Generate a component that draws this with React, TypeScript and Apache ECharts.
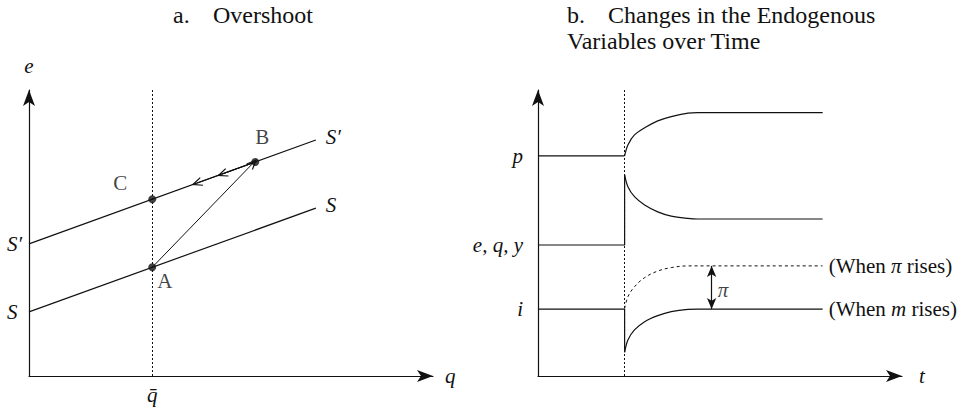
import React, { useEffect, useRef } from 'react';
import * as echarts from 'echarts';

const FONT = '"Liberation Serif", "Times New Roman", Times, serif';
const INK = '#111';

// ---------- Panel a: Overshoot ----------
const QBAR = 3.05;
const S_LINE = [[0, 2.24], [7.1, 5.87]];
const S_PRIME_LINE = [[0, 4.62], [7.1, 8.25]];
const POINT_NAMES = ['A', 'B', 'C'];
const POINTS = [[3.05, 3.8], [5.6, 7.48], [3.05, 6.18]];
const JUMP_FROM = [3.05, 3.8];
const JUMP_TO = [5.55, 7.45];
const RETURN_FROM = [5.6, 7.48];
const RETURN_TIPS = [[4.78, 7.06], [4.15, 6.74]];
const A_Y_LABEL_VALUES = [2.24, 4.62];
const A_Y_LABELS = ['S', 'S\u2032'];

// ---------- Panel b: Changes over time ----------
const T_SHOCK = 2.38;
const B_Y_LABEL_VALUES = [7.70, 4.58, 2.34];
const B_Y_LABELS = ['p', 'e, q, y', 'i'];
const P_BEFORE = [[0, 7.70], [2.38, 7.70]];
const P_AFTER = [[2.38, 7.70], [2.47, 8.08], [2.65, 8.43], [2.93, 8.68], [3.29, 8.92], [3.66, 9.07], [4.12, 9.19], [4.39, 9.21], [7.82, 9.21]];
const EQY_STEP = [[0, 4.58], [2.38, 4.58], [2.38, 7.03]];
const EQY_AFTER = [[2.38, 7.03], [2.47, 6.62], [2.65, 6.27], [2.93, 5.98], [3.29, 5.74], [3.66, 5.59], [4.12, 5.51], [4.39, 5.49], [7.82, 5.49]];
const I_STEP = [[0, 2.34], [2.38, 2.34], [2.38, 0.83]];
const I_AFTER_M = [[2.38, 0.83], [2.47, 1.26], [2.65, 1.61], [2.93, 1.90], [3.29, 2.11], [3.66, 2.25], [4.12, 2.33], [4.39, 2.34], [7.82, 2.34]];
const I_AFTER_PI = [[2.38, 2.36], [2.47, 2.77], [2.65, 3.12], [2.93, 3.44], [3.29, 3.67], [3.66, 3.79], [4.12, 3.85], [4.39, 3.85], [7.82, 3.85]];
const PI_GAP_X = 4.77;
const PI_GAP = [3.85, 2.34];
const PI_LABEL_POS = [4.77, 3.0];

const CHEVRON = 'path://M5,0 L10,12 L8.9,12.6 L5,3.6 L1.1,12.6 L0,12 Z';

function pickLabel(values: number[], labels: string[]) {
  return (v: number) => {
    let best = 0;
    let bd = Infinity;
    values.forEach((x, i) => {
      const d = Math.abs(x - v);
      if (d < bd) { bd = d; best = i; }
    });
    return bd < 0.01 ? labels[best] : '';
  };
}

const lineBase = { type: 'line', symbol: 'none', silent: true, lineStyle: { color: INK, width: 1.2 } };
const SMOOTH = 0.35;

export default function App() {
  const ref = useRef<HTMLDivElement>(null);
  useEffect(() => {
    document.body.style.margin = '0';
    const chart = echarts.init(ref.current!, null, { renderer: 'svg' });
    const axisLine = {
      show: true,
      onZero: false,
      symbol: ['none', 'arrow'],
      symbolSize: [9, 16],
      lineStyle: { color: INK, width: 1.2 },
    };
    const nameStyle = { fontFamily: FONT, fontStyle: 'italic', fontSize: 21, color: INK };
    const labelStyle = { fontFamily: FONT, fontSize: 21, color: INK };
    const titleRich = { fontFamily: FONT, fontSize: 24, color: INK, fontWeight: 'normal', lineHeight: 26 };
    const option: any = {
      animation: false,
      backgroundColor: '#fff',
      title: [
        {
          left: 173, top: 2, padding: 0,
          text: '{l|a.}{t|Overshoot}',
          textStyle: { fontWeight: 'normal', rich: { l: { ...titleRich, width: 40 }, t: titleRich } },
        },
        {
          left: 567, top: 2, padding: 0,
          text: '{l|b.}{t|Changes in the Endogenous}\n{t|Variables over Time}',
          textStyle: { fontWeight: 'normal', rich: { l: { ...titleRich, width: 41 }, t: titleRich } },
        },
      ],
      grid: [
        { left: 29, top: 90, width: 404, height: 286, outerBoundsMode: 'none' },
        { left: 538, top: 90, width: 364, height: 286, outerBoundsMode: 'none' },
      ],
      xAxis: [
        {
          gridIndex: 0, type: 'value', min: 0, max: 10,
          axisLine, axisTick: { show: false }, splitLine: { show: false },
          axisLabel: { ...labelStyle, fontStyle: 'italic', customValues: [QBAR], formatter: () => 'q\u0304', margin: 8 },
          name: 'q', nameLocation: 'end', nameGap: 12, nameTextStyle: nameStyle,
        },
        {
          gridIndex: 1, type: 'value', min: 0, max: 10,
          axisLine, axisTick: { show: false }, splitLine: { show: false },
          axisLabel: { show: false },
          name: 't', nameLocation: 'end', nameGap: 17, nameTextStyle: nameStyle,
        },
      ],
      yAxis: [
        {
          gridIndex: 0, type: 'value', min: 0, max: 10,
          axisLine, axisTick: { show: false }, splitLine: { show: false },
          axisLabel: {
            ...labelStyle, fontStyle: 'italic', customValues: A_Y_LABEL_VALUES,
            formatter: pickLabel(A_Y_LABEL_VALUES, A_Y_LABELS), align: 'left', margin: 22,
          },
          name: 'e', nameLocation: 'end', nameGap: 14, nameTextStyle: nameStyle,
        },
        {
          gridIndex: 1, type: 'value', min: 0, max: 10,
          axisLine, axisTick: { show: false }, splitLine: { show: false },
          axisLabel: {
            ...labelStyle, fontStyle: 'italic', customValues: B_Y_LABEL_VALUES,
            formatter: pickLabel(B_Y_LABEL_VALUES, B_Y_LABELS), margin: 15,
          },
        },
      ],
      series: [
        // Panel a
        {
          ...lineBase, xAxisIndex: 0, yAxisIndex: 0, data: S_LINE, clip: false,
          endLabel: { show: true, formatter: 'S', ...labelStyle, fontStyle: 'italic', distance: 10, offset: [0, -3] },
          markLine: {
            silent: true, symbol: ['none', 'none'], label: { show: false },
            lineStyle: { color: INK, width: 1, type: [2, 2] },
            data: [[{ coord: [QBAR, 0] }, { coord: [QBAR, 10] }]],
          },
        },
        {
          ...lineBase, xAxisIndex: 0, yAxisIndex: 0, data: S_PRIME_LINE, clip: false,
          endLabel: { show: true, formatter: 'S\u2032', ...labelStyle, fontStyle: 'italic', distance: 10, offset: [0, -3] },
          markLine: {
            silent: true, symbol: ['none', CHEVRON], symbolSize: [9, 11], label: { show: false },
            lineStyle: { color: INK, width: 1, type: 'solid' },
            data: [
              [{ coord: JUMP_FROM }, { coord: JUMP_TO }],
              ...RETURN_TIPS.map((t) => [{ coord: RETURN_FROM }, { coord: t }]),
            ],
          },
        },
        {
          type: 'scatter', xAxisIndex: 0, yAxisIndex: 0, silent: true, z: 5,
          symbol: 'circle', symbolSize: 8, itemStyle: { color: INK },
          data: POINTS.map((p, i) => ({
            name: POINT_NAMES[i], value: p,
            label: {
              show: true, formatter: POINT_NAMES[i], ...labelStyle, position: 'inside',
              offset: i === 0 ? [12.5, 14] : i === 1 ? [7, -25] : [-32, -16],
            },
          })),
        },
        // Panel b
        {
          ...lineBase, xAxisIndex: 1, yAxisIndex: 1, data: P_BEFORE, clip: false,
          markLine: {
            silent: true, symbol: ['none', 'none'], label: { show: false },
            lineStyle: { color: INK, width: 1, type: [2, 2] },
            data: [[{ coord: [T_SHOCK, 0] }, { coord: [T_SHOCK, 10] }]],
          },
        },
        { ...lineBase, xAxisIndex: 1, yAxisIndex: 1, data: P_AFTER, smooth: SMOOTH },
        { ...lineBase, xAxisIndex: 1, yAxisIndex: 1, data: EQY_STEP },
        { ...lineBase, xAxisIndex: 1, yAxisIndex: 1, data: EQY_AFTER, smooth: SMOOTH },
        { ...lineBase, xAxisIndex: 1, yAxisIndex: 1, data: I_STEP },
        {
          ...lineBase, xAxisIndex: 1, yAxisIndex: 1, data: I_AFTER_M, smooth: SMOOTH, clip: false,
          endLabel: {
            show: true, distance: 6,
            formatter: '{n|(When }{m|m}{n| rises)}',
            rich: { n: { ...labelStyle }, m: { ...labelStyle, fontStyle: 'italic' } },
          },
          markLine: {
            silent: true, symbol: ['arrow', 'arrow'], symbolSize: [7, 11], label: { show: false },
            lineStyle: { color: INK, width: 1.2, type: 'solid' },
            data: [[{ coord: [PI_GAP_X, PI_GAP[0]] }, { coord: [PI_GAP_X, PI_GAP[1]] }]],
          },
        },
        {
          ...lineBase, xAxisIndex: 1, yAxisIndex: 1, data: I_AFTER_PI, smooth: SMOOTH, clip: false,
          lineStyle: { color: INK, width: 1, type: [3, 3] },
          endLabel: {
            show: true, distance: 6,
            formatter: '{n|(When }{m|\u03c0}{n| rises)}',
            rich: { n: { ...labelStyle }, m: { ...labelStyle, fontStyle: 'italic' } },
          },
        },
        {
          type: 'scatter', xAxisIndex: 1, yAxisIndex: 1, silent: true,
          symbolSize: 0, itemStyle: { color: 'transparent' },
          data: [{ value: PI_LABEL_POS, label: { show: true, formatter: '\u03c0', ...labelStyle, fontStyle: 'italic', position: 'right', distance: 6 } }],
        },
      ],
    };
    chart.setOption(option);
    return () => chart.dispose();
  }, []);
  return <div ref={ref} style={{ width: 964, height: 407 }} />;
}
